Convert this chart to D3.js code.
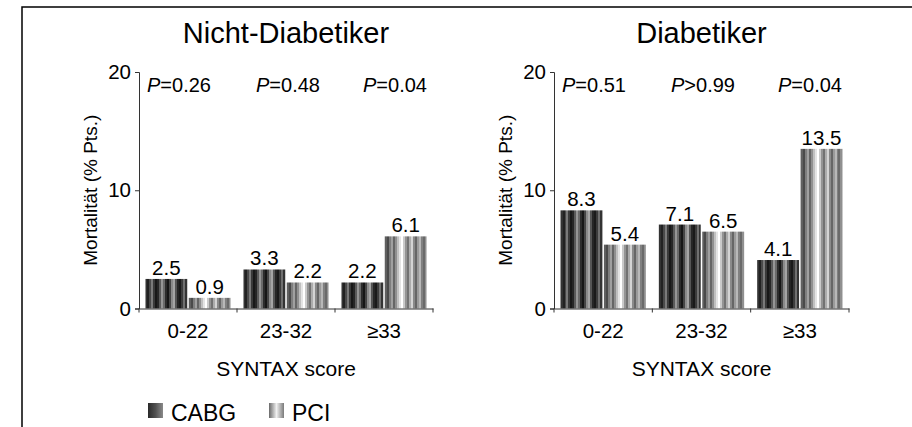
<!DOCTYPE html>
<html><head><meta charset="utf-8">
<script src="https://cdn.jsdelivr.net/npm/d3@7"></script>
<style>
html,body{margin:0;padding:0;background:#fff;}
svg{display:block;font-family:"Liberation Sans",Arial,sans-serif;}
</style></head>
<body><svg id="c" width="912" height="427"></svg>
<script>
const categories = ["0-22", "23-32", "\u226533"];
const series = ["CABG", "PCI"];
const nonDiabCABG = [2.5, 3.3, 2.2];
const nonDiabPCI = [0.9, 2.2, 6.1];
const diabCABG = [8.3, 7.1, 4.1];
const diabPCI = [5.4, 6.5, 13.5];
const pNonDiab = ["=0.26", "=0.48", "=0.04"];
const pDiab = ["=0.51", ">0.99", "=0.04"];
const yTicks = [0, 10, 20];
const panelTitles = ["Nicht-Diabetiker", "Diabetiker"];
const xTitle = "SYNTAX score";
const yTitle = "Mortalit\u00e4t (% Pts.)";

const FONT = "Liberation Sans, Arial, sans-serif";
const svg = d3.select("#c");
const defs = svg.append("defs");

function stripeGrad(id, colors) {
  const g = defs.append("linearGradient").attr("id", id)
    .attr("x1", "0").attr("x2", "1").attr("y1", "0").attr("y2", "0");
  const n = colors.length;
  colors.forEach((c, i) => {
    g.append("stop").attr("offset", i / n).attr("stop-color", c);
    g.append("stop").attr("offset", (i + 1) / n).attr("stop-color", c);
  });
}
stripeGrad("gCABG", ["#333","#222","#4a4a4a","#7a7a7a","#3a3a3a","#181818","#262626","#5a5a5a","#959595","#6a6a6a","#2c2c2c","#161616","#454545","#8a8a8a","#a5a5a5","#555","#262626","#1a1a1a","#3c3c3c","#707070","#333"]);
stripeGrad("gPCI", ["#606060","#4a4a4a","#7e7e7e","#a0a0a0","#666","#909090","#c0c0c0","#e4e4e4","#ffffff","#cacaca","#949494","#727272","#acacac","#d4d4d4","#8a8a8a","#666","#9a9a9a","#b8b8b8","#808080","#6a6a6a","#909090"]);
const lg1 = defs.append("linearGradient").attr("id", "lCABG");
[["0","#2a2a2a"],["0.5","#505050"],["1","#8a8a8a"]].forEach(s => lg1.append("stop").attr("offset", s[0]).attr("stop-color", s[1]));
const lg2 = defs.append("linearGradient").attr("id", "lPCI");
[["0","#6a6a6a"],["0.5","#f0f0f0"],["1","#7a7a7a"]].forEach(s => lg2.append("stop").attr("offset", s[0]).attr("stop-color", s[1]));

// outer frame
svg.append("rect").attr("x", 22).attr("y", 7).attr("width", 1000).attr("height", 1000)
  .attr("fill", "none").attr("stroke", "#000").attr("stroke-width", 1.5);

const y = d3.scaleLinear().domain([0, 20]).range([308.5, 72]);

const panels = [
  { x0: 139, x1: 433, title: panelTitles[0], data: [nonDiabCABG, nonDiabPCI], p: pNonDiab },
  { x0: 554, x1: 849, title: panelTitles[1], data: [diabCABG, diabPCI], p: pDiab }
];
const grads = ["url(#gCABG)", "url(#gPCI)"];

panels.forEach(pn => {
  const g = svg.append("g");
  const x = d3.scaleBand().domain(categories).range([pn.x0, pn.x1]).paddingInner(0).paddingOuter(0);
  const xs = d3.scaleBand().domain(series).range([0, x.bandwidth()]).paddingInner(0.035).paddingOuter(0.15);

  g.append("text").attr("x", (pn.x0 + pn.x1) / 2).attr("y", 43).attr("text-anchor", "middle")
    .attr("font-size", 29).attr("fill", "#000").text(pn.title);

  series.forEach((s, si) => {
    pn.data[si].forEach((v, ci) => {
      const bx = x(categories[ci]) + xs(s);
      g.append("rect").attr("x", bx).attr("y", y(v)).attr("width", xs.bandwidth())
        .attr("height", y(0) - y(v)).attr("fill", grads[si]);
      g.append("text").attr("x", bx + xs.bandwidth() / 2).attr("y", y(v) - 4)
        .attr("text-anchor", "middle").attr("font-size", 20.5).attr("fill", "#000").text(v.toFixed(1));
    });
  });

  const ya = g.append("g").attr("transform", `translate(${pn.x0},0)`)
    .call(d3.axisLeft(y).tickValues(yTicks).tickSize(4).tickPadding(4).tickFormat(d3.format("d")));
  ya.select(".domain").attr("stroke", "#333");
  ya.selectAll(".tick line").attr("stroke", "#333");
  ya.selectAll("text").attr("font-size", 20.5).attr("fill", "#000").style("font-family", FONT);

  const xa = g.append("g").attr("transform", `translate(0,${y(0)})`)
    .call(d3.axisBottom(x).tickSize(0).tickPadding(15).tickSizeOuter(0));
  xa.select(".domain").attr("stroke", "#333");
  xa.selectAll("text").attr("font-size", 20.5).attr("fill", "#000").style("font-family", FONT);
  const edges = categories.map(c => x(c)).concat([pn.x1]);
  xa.selectAll(".edge").data(edges).enter().append("line").attr("class", "edge")
    .attr("x1", d => d).attr("x2", d => d).attr("y1", 0).attr("y2", 4).attr("stroke", "#333");

  g.append("text").attr("x", (pn.x0 + pn.x1) / 2).attr("y", 376).attr("text-anchor", "middle")
    .attr("font-size", 21).attr("fill", "#000").text(xTitle);

  g.append("text").attr("transform", `translate(${pn.x0 - 42},${y(10)}) rotate(-90)`)
    .attr("text-anchor", "middle").attr("font-size", 19).attr("fill", "#000").text(yTitle);

  const pOff = [8, 117, 224];
  pn.p.forEach((t, i) => {
    const tx = g.append("text").attr("x", pn.x0 + pOff[i]).attr("y", 92)
      .attr("font-size", 20).attr("fill", "#000");
    tx.append("tspan").attr("font-style", "italic").text("P");
    tx.append("tspan").text(t);
  });
});

const leg = svg.append("g");
const legItems = [{ x: 148, fill: "url(#lCABG)", label: series[0] }, { x: 269, fill: "url(#lPCI)", label: series[1] }];
legItems.forEach(it => {
  leg.append("rect").attr("x", it.x).attr("y", 403).attr("width", 15).attr("height", 15).attr("fill", it.fill);
  leg.append("text").attr("x", it.x + 23).attr("y", 421).attr("font-size", 23).attr("fill", "#000").text(it.label);
});
</script>
</body></html>
